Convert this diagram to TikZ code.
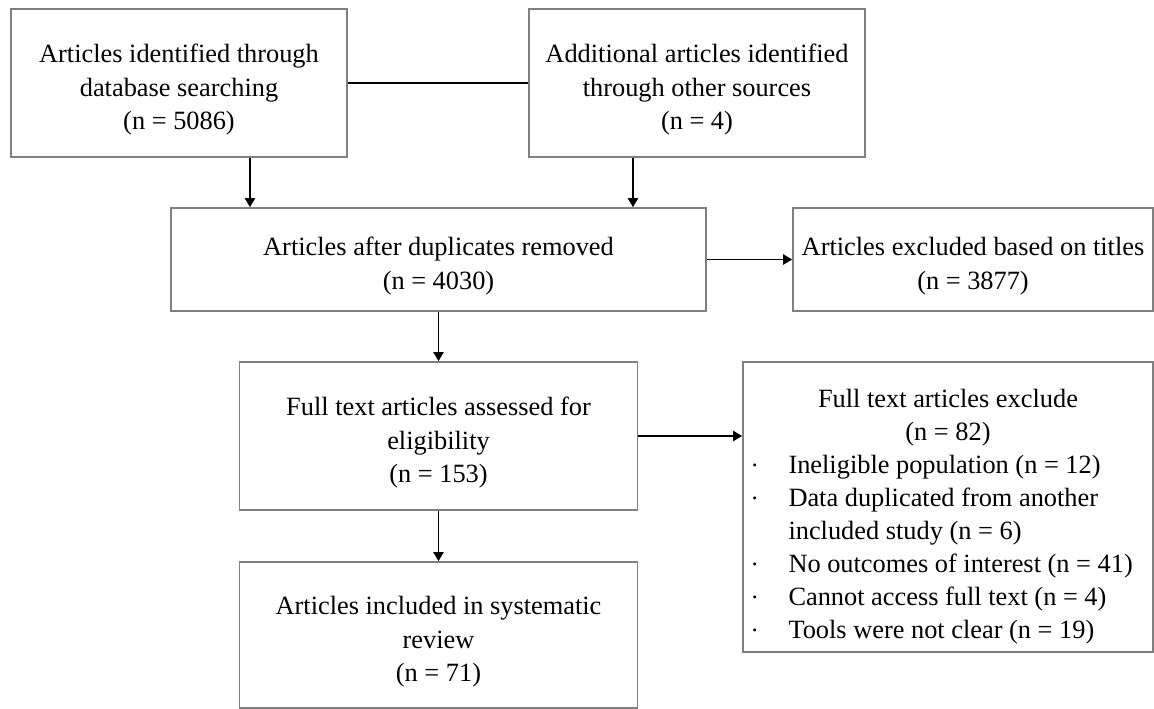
\documentclass[tikz,border=0pt]{standalone}
\usepackage{fontspec}
\setmainfont{Liberation Serif}
\usepackage{tikz}
\usetikzlibrary{arrows.meta,positioning,calc}

\newcommand{\exbullet}{\raisebox{0.35ex}{\scriptsize\textbullet}}
\newcommand{\boxstrut}{\rule{0pt}{18pt}}

\begin{document}
\begin{tikzpicture}[
    font=\fontsize{15}{18.8}\selectfont,
    prbox/.style={draw=black!50, line width=0.9pt, minimum width=6.72cm, minimum height=2.96cm, align=center, inner sep=2pt},
    exbox/.style={draw=black!50, line width=0.9pt, align=center, inner sep=2pt},
    arrow/.style={-{Triangle[length=1.8mm, width=2mm]}, line width=1.1pt}
]
\useasboundingbox (0,0) rectangle (23.08,-14.18);

% Identification
\node[prbox] (b1) at (3.58,-1.66) {\boxstrut Articles identified through\\database searching\\(n = 5086)};
\node[prbox] (b2) at (13.94,-1.66) {\boxstrut Additional articles identified\\through other sources\\(n = 4)};

% Screening
\node[prbox, minimum width=10.7cm, minimum height=2.06cm] (b3) at (8.77,-5.19) {\boxstrut Articles after duplicates removed\\(n = 4030)};
\node[exbox, minimum width=7.2cm, minimum height=2.06cm] (b4) at (19.46,-5.19) {\boxstrut Articles excluded based on titles\\(n = 3877)};

% Eligibility
\node[prbox, minimum width=7.96cm] (b5) at (8.77,-8.72) {\boxstrut Full text articles assessed for\\eligibility\\(n = 153)};
\node[exbox, minimum width=8.2cm, minimum height=5.8cm] (b6) at (18.96,-10.14) {%
\begin{tabular}{@{}p{0.72cm}@{}p{7.1cm}@{}}
\multicolumn{2}{@{}c@{}}{\rule{0pt}{24pt}Full text articles exclude}\\
\multicolumn{2}{@{}c@{}}{(n = 82)}\\
\exbullet & Ineligible population (n = 12)\\
\exbullet & Data duplicated from another\\
 & included study (n = 6)\\
\exbullet & No outcomes of interest (n = 41)\\
\exbullet & Cannot access full text (n = 4)\\
\exbullet & Tools were not clear (n = 19)
\end{tabular}};

% Included
\node[prbox, minimum width=7.96cm, minimum height=2.92cm] (b7) at (8.77,-12.70) {\boxstrut Articles included in systematic\\review\\(n = 71)};

\draw[line width=1.1pt] (b1.east) -- (b2.west);
\draw[arrow] ([xshift=1.42cm]b1.south) -- ([xshift=1.42cm]b1.south |- b3.north);
\draw[arrow] ([xshift=-1.28cm]b2.south) -- ([xshift=-1.28cm]b2.south |- b3.north);
\draw[arrow] (b3.east) -- (b4.west);
\draw[arrow] (b3.south) -- (b5.north);
\draw[arrow] (b5.east) -- (b5.east -| b6.west);
\draw[arrow] (b5.south) -- (b7.north);

\end{tikzpicture}
\end{document}
